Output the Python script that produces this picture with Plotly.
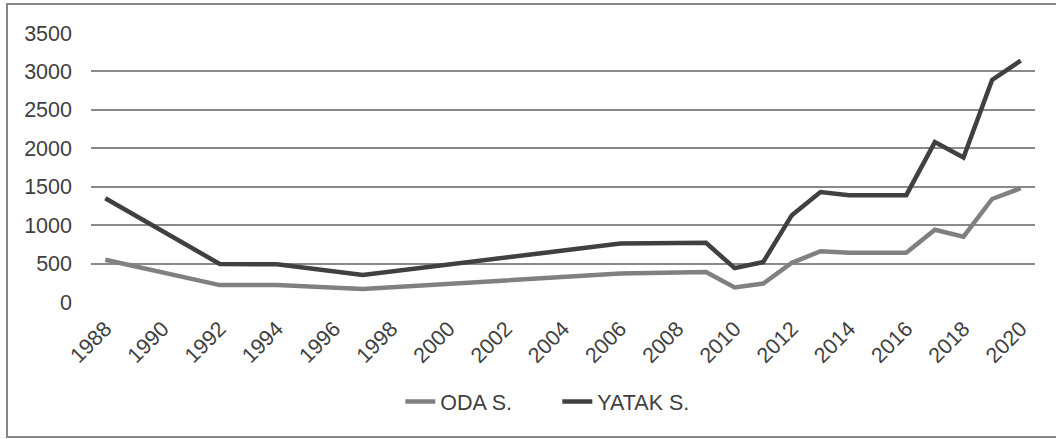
import plotly.graph_objs as go

# values
oda_years = [1988, 1992, 1994, 1997, 2006, 2008, 2009, 2010, 2011, 2012, 2013, 2014, 2016, 2017, 2018, 2019, 2020]
oda_values = [550, 220, 220, 170, 370, 375, 390, 190, 240, 510, 660, 640, 640, 940, 850, 1340, 1480]

yatak_years = [1988, 1992, 1994, 1997, 2006, 2008, 2009, 2010, 2011, 2012, 2013, 2014, 2016, 2017, 2018, 2019, 2020]
yatak_values = [1350, 495, 490, 350, 760, 760, 770, 440, 520, 1130, 1430, 1390, 1390, 2080, 1880, 2890, 3140]

year_ticks = list(range(1988, 2021, 2))
y_ticks = list(range(0, 3501, 500))

fig = go.Figure()
fig.add_trace(go.Scatter(x=oda_years, y=oda_values, mode='lines',
                         line=dict(color='#808080', width=4.5), name='ODA S.'))
fig.add_trace(go.Scatter(x=yatak_years, y=yatak_values, mode='lines',
                         line=dict(color='#404040', width=4.5), name='YATAK S.'))

fig.update_xaxes(
    range=[1987.5, 2020.5], tickvals=year_ticks, ticktext=[str(y) for y in year_ticks],
    tickangle=-45, showgrid=False, zeroline=False, showline=False, ticks='',
    automargin=False, ticklabelstandoff=9, tickfont=dict(size=21.5, color='#404040'),
)
fig.update_yaxes(
    range=[0, 3500], tickvals=y_ticks, showgrid=True, gridcolor='#8a8a8a', gridwidth=1.8,
    zeroline=False, showline=False, ticks='', automargin=False,
    ticklabelstandoff=18, tickfont=dict(size=21.5, color='#404040'),
)

# outer frame of the chart
fig.add_shape(type='rect', xref='paper', yref='paper',
              x0=-0.089, x1=1.024, y0=-0.502, y1=1.108,
              line=dict(color='#868686', width=2))

fig.update_layout(
    width=1056, height=439,
    margin=dict(l=91, r=21, t=33, b=137),
    paper_bgcolor='white', plot_bgcolor='white',
    font=dict(family='Liberation Sans, Arial, sans-serif', color='#404040'),
    showlegend=True,
    legend=dict(orientation='h', x=0.494, xanchor='center', y=-0.37, yanchor='middle',
                font=dict(size=21.5, color='#404040'), itemwidth=30, entrywidth=112,
                traceorder='normal'),
)

# drop the default page margin so the figure sits at the window's corner
fig.write_html("out.html", config={'displayModeBar': False},
               post_script="document.body.style.margin='0';")
